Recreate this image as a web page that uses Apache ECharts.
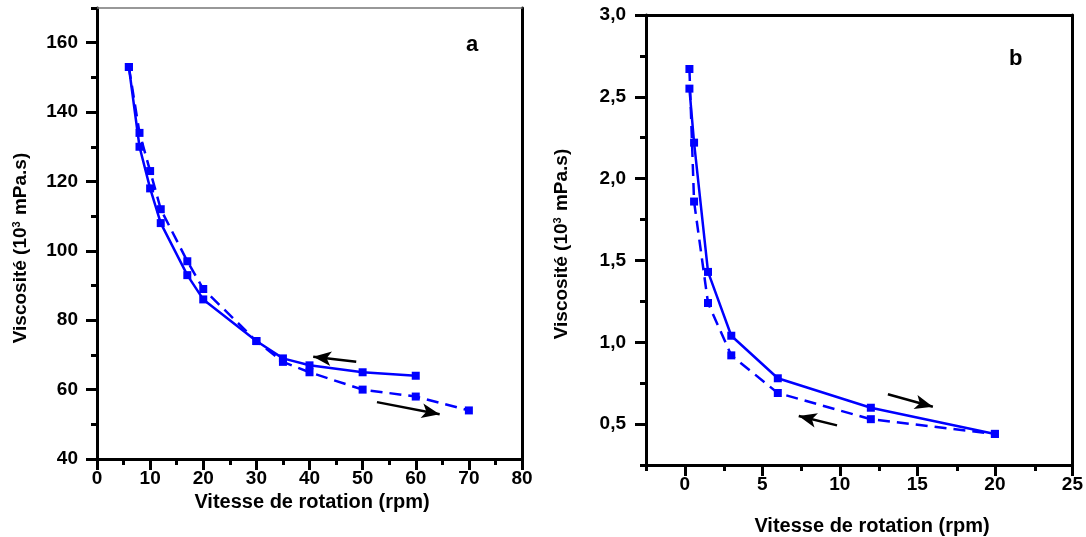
<!DOCTYPE html>
<html>
<head>
<meta charset="utf-8">
<script src="https://cdn.jsdelivr.net/npm/echarts@6/dist/echarts.min.js"></script>
<style>html,body{margin:0;padding:0;background:#fff}#c{width:1086px;height:537px}</style>
</head>
<body>
<div id="c"></div>
<script>
// Panel a data
const aSolidX = [6, 8, 10, 12, 17, 20, 30, 35, 40, 50, 60];
const aSolidY = [153, 130, 118, 108, 93, 86, 74, 69, 67, 65, 64];
const aDashX = [6, 8, 10, 12, 17, 20, 30, 35, 40, 50, 60, 70];
const aDashY = [153, 134, 123, 112, 97, 89, 74, 68, 65, 60, 58, 54];
// Panel b data
const bSolidX = [0.3, 0.6, 1.5, 3, 6, 12, 20];
const bSolidY = [2.55, 2.22, 1.43, 1.04, 0.78, 0.60, 0.44];
const bDashX = [0.3, 0.6, 1.5, 3, 6, 12, 20];
const bDashY = [2.67, 1.86, 1.24, 0.92, 0.69, 0.53, 0.44];
// Tick values
const aXMajor = [0, 10, 20, 30, 40, 50, 60, 70, 80];
const aXMinor = [5, 15, 25, 35, 45, 55, 65, 75];
const aYMajor = [40, 60, 80, 100, 120, 140, 160];
const aYMinor = [50, 70, 90, 110, 130, 150, 170];
const bXMajor = [0, 5, 10, 15, 20, 25];
const bXMinor = [-2.5, 2.5, 7.5, 12.5, 17.5, 22.5];
const bYMajor = [0.5, 1.0, 1.5, 2.0, 2.5, 3.0];
const bYMinor = [0.25, 0.75, 1.25, 1.75, 2.25, 2.75];
// Arrow annotations [x1,y1,x2,y2]
const aArrowUpper = [48.8, 68.0, 40.7, 69.5];
const aArrowLower = [52.7, 56.4, 64.5, 52.9];
const bArrowUpper = [13.1, 0.682, 16.0, 0.606];
const bArrowLower = [9.82, 0.492, 7.35, 0.549];
// Texts
const xTitle = 'Vitesse de rotation (rpm)';
const yTitle = '{b|Viscosité (10}{s|3}{b| mPa.s)}';

const FONT = 'Liberation Sans, Arial, sans-serif';
const BLUE = '#0000ff';
const zip = (xs, ys) => xs.map((x, i) => [x, ys[i]]);
const lblStyle = {fontFamily: FONT, fontWeight: 'bold', fontSize: 19, color: '#000'};

function arrow(a) {
  return [{coord: [a[0], a[1]]}, {coord: [a[2], a[3]]}];
}

const gridA = {left: 97, top: 8, width: 425, height: 451};
const gridB = {left: 646, top: 15, width: 428, height: 450};

function mainX(grid, min, max, major) {
  return {
    type: 'value', gridIndex: grid, min: min, max: max, position: 'bottom',
    axisLine: {show: true, onZero: false, lineStyle: {color: '#000', width: 3}},
    axisTick: {show: true, inside: false, length: 11, lineStyle: {color: '#000', width: 3}, customValues: major},
    axisLabel: {show: true, margin: 10, customValues: major, ...lblStyle,
      formatter: v => String(v)},
    splitLine: {show: false}
  };
}
function minorX(grid, min, max, minor) {
  return {
    type: 'value', gridIndex: grid, min: min, max: max, position: 'bottom',
    axisLine: {show: false, onZero: false},
    axisTick: {show: true, inside: false, length: 6, lineStyle: {color: '#000', width: 3}, customValues: minor},
    axisLabel: {show: false}, splitLine: {show: false}
  };
}
function mainY(grid, min, max, major, fmt, margin) {
  return {
    type: 'value', gridIndex: grid, min: min, max: max, position: 'left',
    axisLine: {show: true, onZero: false, lineStyle: {color: '#000', width: 3}},
    axisTick: {show: true, inside: false, length: 11, lineStyle: {color: '#000', width: 3}, customValues: major},
    axisLabel: {show: true, margin: margin, customValues: major, ...lblStyle, formatter: fmt},
    splitLine: {show: false}
  };
}
function minorY(grid, min, max, minor) {
  return {
    type: 'value', gridIndex: grid, min: min, max: max, position: 'left',
    axisLine: {show: false, onZero: false},
    axisTick: {show: true, inside: false, length: 6, lineStyle: {color: '#000', width: 3}, customValues: minor},
    axisLabel: {show: false}, splitLine: {show: false}
  };
}
function borderAxis(grid, min, max, pos, color, width) {
  return {
    type: 'value', gridIndex: grid, min: min, max: max, position: pos,
    axisLine: {show: true, onZero: false, lineStyle: {color: color, width: width}},
    axisTick: {show: false}, axisLabel: {show: false}, splitLine: {show: false}
  };
}

const yTitleRich = {
  b: {fontFamily: FONT, fontWeight: 'bold', fontSize: 19, fill: '#000'},
  s: {fontFamily: FONT, fontWeight: 'bold', fontSize: 11, fill: '#000', verticalAlign: 'top', padding: [0, 1, 9, 0]}
};
function yTitleGraphic(x, y) {
  return {
    type: 'text', x: x, y: y, rotation: Math.PI / 2,
    style: {text: yTitle, rich: yTitleRich, align: 'center', verticalAlign: 'middle',
      font: 'bold 19px ' + FONT, fill: '#000'}
  };
}
function xTitleGraphic(x, y) {
  return {
    type: 'text', x: x, y: y,
    style: {text: xTitle, align: 'center', verticalAlign: 'middle', font: 'bold 20px ' + FONT, fill: '#000'}
  };
}

const chart = echarts.init(document.getElementById('c'), null, {renderer: 'canvas'});
const option = {
  backgroundColor: '#fff',
  animation: false,
  grid: [gridA, gridA, gridB, gridB].map(g => Object.assign({containLabel: false}, g)),
  xAxis: [
    mainX(0, 0, 80, aXMajor),
    borderAxis(0, 0, 80, 'top', '#777', 1.5),
    minorX(1, 0, 80, aXMinor),
    mainX(2, -2.5, 25, bXMajor),
    borderAxis(2, -2.5, 25, 'top', '#000', 3),
    minorX(3, -2.5, 25, bXMinor)
  ],
  yAxis: [
    mainY(0, 40, 170, aYMajor, v => String(v), 19),
    borderAxis(0, 40, 170, 'right', '#000', 3),
    minorY(1, 40, 170, aYMinor),
    mainY(2, 0.25, 3.0, bYMajor, v => v.toFixed(1).replace('.', ','), 20),
    borderAxis(2, 0.25, 3.0, 'right', '#000', 3),
    minorY(3, 0.25, 3.0, bYMinor)
  ],
  graphic: [
    {type: 'text', left: 466, top: 34, style: {text: 'a', font: 'bold 22px ' + FONT, fill: '#000'}},
    {type: 'text', left: 1009, top: 48, style: {text: 'b', font: 'bold 22px ' + FONT, fill: '#000'}},
    yTitleGraphic(21, 248),
    yTitleGraphic(562, 244),
    xTitleGraphic(312, 502),
    xTitleGraphic(872, 526)
  ],
  series: [
    {
      type: 'line', name: 'a-montée', xAxisIndex: 0, yAxisIndex: 0, data: zip(aSolidX, aSolidY),
      symbol: 'rect', symbolSize: 8, itemStyle: {color: BLUE},
      lineStyle: {color: BLUE, width: 2.5, type: 'solid'},
      markLine: {silent: true, symbol: ['none', 'arrow'], symbolSize: [11, 18], label: {show: false},
        lineStyle: {color: '#000', width: 2.5, type: 'solid'},
        data: [arrow(aArrowUpper), arrow(aArrowLower)]}
    },
    {
      type: 'line', name: 'a-descente', xAxisIndex: 0, yAxisIndex: 0, data: zip(aDashX, aDashY),
      symbol: 'rect', symbolSize: 8, itemStyle: {color: BLUE},
      lineStyle: {color: BLUE, width: 2.5, type: [12, 7]}
    },
    {
      type: 'line', name: 'b-montée', xAxisIndex: 3, yAxisIndex: 3, data: zip(bSolidX, bSolidY),
      symbol: 'rect', symbolSize: 8, itemStyle: {color: BLUE},
      lineStyle: {color: BLUE, width: 2.5, type: 'solid'},
      markLine: {silent: true, symbol: ['none', 'arrow'], symbolSize: [11, 18], label: {show: false},
        lineStyle: {color: '#000', width: 2.5, type: 'solid'},
        data: [arrow(bArrowUpper), arrow(bArrowLower)]}
    },
    {
      type: 'line', name: 'b-descente', xAxisIndex: 3, yAxisIndex: 3, data: zip(bDashX, bDashY),
      symbol: 'rect', symbolSize: 8, itemStyle: {color: BLUE},
      lineStyle: {color: BLUE, width: 2.5, type: [12, 7]}
    }
  ]
};
chart.setOption(option);
</script>
</body>
</html>
